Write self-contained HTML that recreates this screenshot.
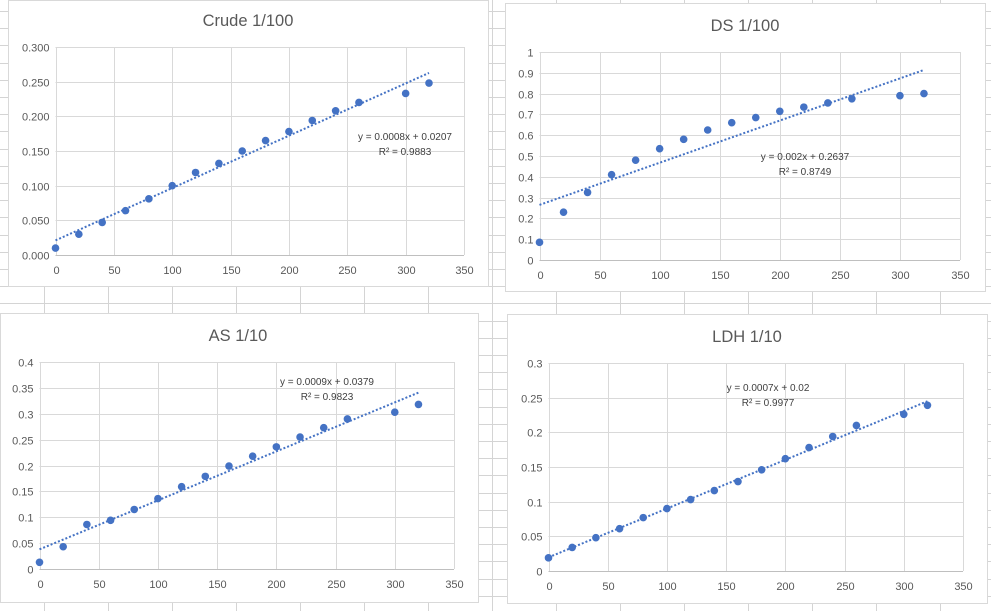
<!DOCTYPE html>
<html><head><meta charset="utf-8"><style>
html,body{margin:0;padding:0;background:#fff;}
body{width:991px;height:611px;overflow:hidden;position:relative;font-family:"Liberation Sans",sans-serif;}
svg{position:absolute;left:0;top:0;}
</style></head><body>
<svg id="s" width="991" height="611"></svg>
<script>
const xValues=[0,20,40,60,80,100,120,140,160,180,200,220,240,260,300,320];
const crudeValues=[0.010,0.030,0.047,0.064,0.081,0.100,0.119,0.132,0.150,0.165,0.178,0.194,0.208,0.220,0.233,0.248];
const dsValues=[0.085,0.23,0.325,0.41,0.48,0.535,0.58,0.625,0.66,0.685,0.715,0.735,0.755,0.775,0.79,0.80];
const asValues=[0.013,0.043,0.086,0.094,0.115,0.136,0.159,0.179,0.199,0.218,0.236,0.255,0.273,0.29,0.303,0.318];
const ldhValues=[0.019,0.034,0.048,0.061,0.077,0.090,0.103,0.116,0.129,0.146,0.162,0.178,0.194,0.210,0.226,0.239];
const xTicks=[0,50,100,150,200,250,300,350];
const crudeTicks=["0.000","0.050","0.100","0.150","0.200","0.250","0.300"];
const dsTicks=["0","0.1","0.2","0.3","0.4","0.5","0.6","0.7","0.8","0.9","1"];
const asTicks=["0","0.05","0.1","0.15","0.2","0.25","0.3","0.35","0.4"];
const ldhTicks=["0","0.05","0.1","0.15","0.2","0.25","0.3"];
const titles=["Crude 1/100","DS 1/100","AS 1/10","LDH 1/10"];
const equations=[["y = 0.0008x + 0.0207","R² = 0.9883"],["y = 0.002x + 0.2637","R² = 0.8749"],["y = 0.0009x + 0.0379","R² = 0.9823"],["y = 0.0007x + 0.02","R² = 0.9977"]];

const NS="http://www.w3.org/2000/svg";
const s=document.getElementById('s');
function mk(tag,attrs,parent){const e=document.createElementNS(NS,tag);for(const k in attrs)e.setAttribute(k,attrs[k]);(parent||s).appendChild(e);return e;}

const bg=mk('g',{});


for(let x=44;x<991;x+=64)mk('line',{x1:x+0.5,y1:0,x2:x+0.5,y2:611,stroke:'#d4d4d4','stroke-width':1},bg);
for(let y=11;y<611;y+=17.2)mk('line',{x1:0,y1:Math.round(y)+0.5,x2:991,y2:Math.round(y)+0.5,stroke:'#d4d4d4','stroke-width':1},bg);

const charts=[
 {name:'crude',card:[8,0,480,286],plot:[55.5,47,464,255],vals:crudeValues,ticks:crudeTicks,ymax:0.3,title:[248,26],eq:[405,140]},
 {name:'ds',card:[505,3,480,288],plot:[539.5,52,960,260],vals:dsValues,ticks:dsTicks,ymax:1,title:[745,31],eq:[805,160]},
 {name:'as',card:[0,313,478,289],plot:[39.5,362,454,569],vals:asValues,ticks:asTicks,ymax:0.4,title:[238,341],eq:[327,385]},
 {name:'ldh',card:[507,314,480,289],plot:[548.5,363,963,571],vals:ldhValues,ticks:ldhTicks,ymax:0.3,title:[747,342],eq:[768,391]}
];
charts.forEach((c,ci)=>{
 const g=mk('g',{});
 
 
 const [cx,cy,cw,ch]=c.card;
 mk('rect',{x:cx+0.5,y:cy+0.5,width:cw,height:ch,fill:'#fff',stroke:'#d9d9d9'},g);
 const [x0,y0,x1,y1]=c.plot;
 const sx=v=>x0+(v/350)*(x1-x0);
 const sy=v=>y1-(v/c.ymax)*(y1-y0);
 const t=mk('text',{x:c.title[0],y:c.title[1],'text-anchor':'middle','font-size':16.5,fill:'#595959'},g);t.textContent=titles[ci];
 
 
 const n=c.ticks.length-1;
 c.ticks.forEach((lab,i)=>{
  const v=c.ymax*i/n, y=Math.round(sy(v))+0.5;
  mk('line',{x1:x0,y1:y,x2:x1,y2:y,stroke:'#d9d9d9'},g);
  const tl=mk('text',{x:x0-6,y:y+4,'text-anchor':'end','font-size':11,fill:'#595959'},g);tl.textContent=lab;
  
  
 });
 xTicks.forEach(v=>{
  const x=Math.round(sx(v))+0.5;
  mk('line',{x1:x,y1:y0,x2:x,y2:y1,stroke:'#d9d9d9'},g);
  const tl=mk('text',{x:x,y:y1+19,'text-anchor':'middle','font-size':11,fill:'#595959'},g);tl.textContent=v;
  
  
 });
 mk('line',{x1:x0,y1:Math.round(y1)+0.5,x2:x1,y2:Math.round(y1)+0.5,stroke:'#bfbfbf'},g);
 const N=xValues.length;let mx=0,my=0;
 for(let i=0;i<N;i++){mx+=xValues[i];my+=c.vals[i];}mx/=N;my/=N;
 let sxy=0,sxx=0;for(let i=0;i<N;i++){sxy+=(xValues[i]-mx)*(c.vals[i]-my);sxx+=(xValues[i]-mx)**2;}
 const m=sxy/sxx,b=my-m*mx;
 const tr=mk('line',{x1:sx(0),y1:sy(b),x2:sx(320),y2:sy(b+m*320),stroke:'#4472c4','stroke-width':2,'stroke-dasharray':'2 2'},g);
 
 
 xValues.forEach((xv,i)=>{
  const p=mk('circle',{cx:sx(xv),cy:sy(c.vals[i]),r:3.8,fill:'#4472c4'},g);
  
  
 });
 const e1=mk('text',{x:c.eq[0],y:c.eq[1],'text-anchor':'middle','font-size':10,fill:'#404040'},g);e1.textContent=equations[ci][0];
 
 
 const e2=mk('text',{x:c.eq[0],y:c.eq[1]+15,'text-anchor':'middle','font-size':10,fill:'#404040'},g);e2.textContent=equations[ci][1];
 
 
});
</script>
</body></html>
